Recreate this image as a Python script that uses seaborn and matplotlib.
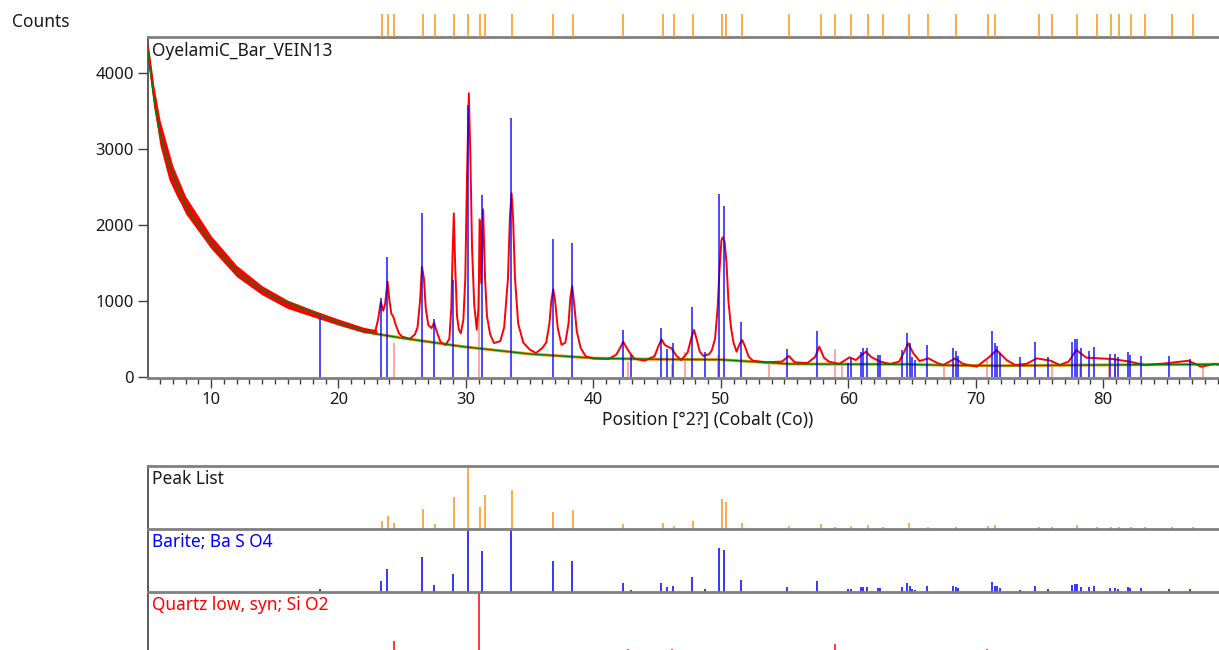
import numpy as np
import pandas as pd
import matplotlib
matplotlib.use('Agg')
import matplotlib.pyplot as plt
import seaborn as sns
from matplotlib.ticker import MultipleLocator

obs_pos = [5.05, 5.3, 5.6, 6.1, 6.8, 7.5, 8.3, 9.0, 10.0, 11.0, 12.25, 13.5, 14.9, 16.2, 17.5,
           18.8, 20.1, 21.4, 22.5, 22.9, 23.1, 23.32, 23.5, 23.65, 23.85, 24.0, 24.15, 24.3,
           24.5, 24.75, 25.0, 25.6, 26.0, 26.2, 26.4, 26.55, 26.7, 26.85, 27.05, 27.3, 27.5,
           27.7, 28.0, 28.4, 28.7, 28.85, 28.95, 29.05, 29.15, 29.3, 29.45, 29.6, 29.8, 29.95,
           30.08, 30.23, 30.35, 30.48, 30.65, 30.85, 30.98, 31.1, 31.2, 31.35, 31.5, 31.65,
           31.9, 32.2, 32.7, 33.0, 33.3, 33.45, 33.58, 33.7, 33.85, 34.1, 34.5, 35.0, 35.5,
           36.0, 36.3, 36.55, 36.7, 36.85, 37.0, 37.2, 37.5, 37.8, 38.05, 38.2, 38.34, 38.5,
           38.7, 39.0, 39.4, 40.0, 41.2, 41.8, 42.1, 42.34, 42.55, 42.8, 43.2, 44.0, 44.8,
           45.1, 45.35, 45.6, 45.9, 46.14, 46.5, 46.9, 47.4, 47.7, 47.9, 48.1, 48.35, 48.65,
           49.1, 49.3, 49.55, 49.75, 49.9, 50.05, 50.15, 50.3, 50.45, 50.6, 50.8, 51.0, 51.24,
           51.5, 51.68, 51.9, 52.2, 52.54, 53.5, 54.8, 55.35, 55.8, 56.8, 57.4, 57.73, 58.1,
           58.5, 59.3, 60.1, 60.6, 61.0, 61.4, 61.8, 62.5, 63.3, 64.0, 64.4, 64.7, 65.1, 65.6,
           66.3, 67.0, 67.46, 68.4, 69.0, 70.08, 71.1, 71.65, 72.43, 73.1, 74.0, 74.8, 75.9,
           76.6, 77.3, 77.9, 78.7, 79.76, 80.8, 82.1, 83.3, 84.9, 86.7, 87.7, 88.75, 89.1]
obs_cnt = [4300, 4000, 3600, 3050, 2600, 2350, 2160, 1970, 1770, 1560, 1350, 1200, 1060, 960, 880,
           790, 710, 640, 590, 610, 750, 990, 870, 950, 1253, 1000, 830, 792,
           680, 570, 528, 500, 560, 650, 1000, 1451, 1300, 900, 680, 642, 712,
           600, 460, 418, 500, 900, 1600, 2155, 1500, 800, 620, 572, 750, 1300,
           2600, 3739, 2900, 1700, 950, 620, 900, 2067, 1235, 2208, 1300, 800,
           560, 444, 470, 650, 1300, 2100, 2420, 2100, 1300, 700, 450, 360, 312,
           380, 450, 700, 1000, 1153, 1000, 650, 420, 450, 700, 1050, 1197, 950,
           600, 380, 270, 240, 235, 290, 380, 462, 400, 330, 240, 211, 270,
           400, 493, 420, 390, 375, 280, 220, 320, 520, 616, 500, 330, 273,
           300, 350, 500, 900, 1400, 1800, 1839, 1780, 1500, 1000, 650, 450, 330,
           440, 484, 400, 260, 211, 190, 200, 273, 190, 180, 260, 396, 250,
           198, 170, 256, 220, 280, 330, 260, 200, 168, 200, 330, 440, 312, 207,
           242, 180, 154, 242, 170, 132, 264, 352, 220, 154, 170, 242, 211,
           154, 200, 352, 251, 242, 233, 198, 154, 176, 211, 132, 168, 160]

# spread of the noisy low-angle part of the scan
band_pos = [5.05, 5.5, 6.0, 7.0, 8.0, 10.0, 12.0, 14.0, 16.0, 18.0, 20.0, 22.0, 23.0]
band_lo = [4150, 3550, 3080, 2500, 2150, 1690, 1320, 1080, 900, 790, 680, 580, 560]
band_hi = [4420, 3850, 3380, 2780, 2380, 1860, 1470, 1200, 1010, 880, 760, 650, 620]

# background (green line)
bg_pos = [5.05, 5.19, 5.5, 5.97, 6.7, 7.54, 8.33, 10.0, 12.25, 14.87, 17.5, 20.1, 22.7, 25.0,
          29.8, 35.0, 40.25, 45.0, 50.0, 55.4, 60.0, 64.6, 68.0, 71.9, 76.0, 80.0, 84.0, 89.1]
bg_cnt = [4300, 4090, 3700, 3213, 2800, 2420, 2156, 1760, 1342, 1055, 880, 704, 572, 510,
          396, 300, 243, 230, 225, 168, 165, 164, 150, 145, 150, 155, 160, 164]

# Barite; Ba S O4 reference sticks
barite_pos = [18.53, 23.32, 23.84, 26.58, 27.49, 29.0, 30.16, 31.28, 33.52, 36.83,
              38.34, 42.29, 42.92, 45.3, 45.75, 46.22, 47.74, 48.75, 49.9, 50.27,
              51.55, 55.2, 57.57, 60.0, 60.2, 61.0, 61.2, 61.45, 62.3, 62.52,
              64.19, 64.61, 64.85, 65.03, 65.23, 66.19, 68.2, 68.44, 68.65, 71.29,
              71.5, 71.71, 71.92, 73.47, 74.65, 75.66, 77.59, 77.79, 77.98, 78.25,
              78.91, 79.32, 80.57, 80.92, 81.21, 81.92, 82.14, 83.0, 85.21, 86.81]
barite_cnt = [780, 1034, 1583, 2164, 757, 1276, 3585, 2397, 3417, 1817,
              1768, 616, 286, 638, 361, 449, 924, 322, 2406, 2252,
              726, 361, 603, 185, 251, 322, 383, 383, 286, 286,
              352, 581, 440, 264, 220, 418, 374, 339, 273, 603,
              440, 409, 308, 264, 462, 255, 453, 493, 493, 374,
              339, 396, 295, 299, 255, 322, 286, 273, 273, 238]
barite_rel = [4, 17, 36, 56, 11, 28, 100, 65, 99, 49,
              49, 14, 3, 15, 8, 9, 24, 5, 70, 66,
              19, 8, 17, 5, 4, 8, 8, 8, 6, 6,
              8, 15, 10, 4, 3, 10, 9, 8, 6, 16,
              10, 10, 7, 3, 10, 4, 11, 12, 12, 8,
              8, 9, 6, 6, 4, 8, 6, 6, 5, 4]

# Quartz low, syn; Si O2 reference sticks
quartz_pos = [24.34, 31.05, 42.73, 46.14, 47.18, 49.75, 53.78, 58.96, 59.53, 67.5,
              70.9, 75.97, 78.2, 80.5, 80.9, 87.87]
quartz_cnt = [440, 2100, 198, 170, 330, 286, 198, 361, 154, 145,
              220, 211, 176, 220, 220, 145]
quartz_rel = [21, 100, 8, 8, 4, 4, 3, 16, 3, 3, 8, 3, 3, 6, 3, 3]

# Peak list
peak_pos = [23.42, 23.9, 24.34, 26.64, 27.58, 29.07, 30.2, 31.09, 31.46, 33.58,
            36.82, 38.42, 42.34, 45.43, 46.32, 47.81, 50.06, 50.42, 51.63, 55.35,
            57.86, 58.96, 60.21, 61.52, 62.75, 64.76, 66.28, 68.43, 70.94, 71.52,
            74.95, 75.97, 77.98, 79.5, 80.62, 81.27, 82.19, 83.29, 85.38, 87.08]
peak_rel = [13, 20, 9, 31, 7, 51, 100, 34, 54, 62,
            26, 30, 8, 9, 4, 12, 48, 43, 9, 4,
            8, 3, 4, 6, 3, 9, 3, 3, 4, 6,
            3, 2, 6, 3, 3, 3, 3, 2, 3, 2]

W, H = 1219, 650
XMIN, XMAX = 5.05, 89.1
BLUE = '#0000ff'
RED = '#ff0000'
ORANGE = '#f7941d'
GREEN = '#008000'
SPINE = '#808080'
FS = 12.5

sns.set_style('white')
plt.rcParams['font.family'] = ['Noto Sans', 'DejaVu Sans']

obs = pd.DataFrame({'pos': obs_pos, 'cnt': obs_cnt})
bg = pd.DataFrame({'pos': bg_pos, 'cnt': bg_cnt})

fig = plt.figure(figsize=(W / 100, H / 100), dpi=100)


def box(l, t, b):
    # axes from pixel edges (left, top, bottom), running to the right edge
    return [l / W, 1 - b / H, 1 - l / W, (b - t) / H]


ax = fig.add_axes(box(148, 36.7, 377.7))
ax_top = fig.add_axes(box(148, 14, 36.7), sharex=ax)
ax_pk = fig.add_axes(box(148, 466, 528.7))
ax_ba = fig.add_axes(box(148, 528.7, 592))
ax_qz = fig.add_axes(box(148, 592, 654))

# main scan
ax.vlines(quartz_pos, 0, quartz_cnt, color=RED, alpha=0.45, lw=1.1, zorder=1)
sns.lineplot(data=bg[bg['pos'] > 22], x='pos', y='cnt', ax=ax, color=ORANGE, lw=2.2,
             estimator=None, sort=False, zorder=2)
ax.fill_between(band_pos, band_lo, band_hi, color=RED, lw=0, zorder=3)
sns.lineplot(data=obs, x='pos', y='cnt', ax=ax, color=RED, lw=1.4,
             estimator=None, sort=False, zorder=3)
sns.lineplot(data=bg, x='pos', y='cnt', ax=ax, color=GREEN, lw=1.0,
             estimator=None, sort=False, zorder=4)
ax.vlines(barite_pos, 0, barite_cnt, color=BLUE, alpha=0.9, lw=1.1, zorder=5)

ax.set_xlim(XMIN, XMAX)
ax.set_ylim(-13, 4485)
ax.set_yticks([0, 1000, 2000, 3000, 4000])
ax.xaxis.set_major_locator(MultipleLocator(10))
ax.xaxis.set_minor_locator(MultipleLocator(1))
ax.tick_params(axis='both', which='major', direction='out', length=7, width=1,
               color='#404040', labelsize=12, pad=3, labelcolor='#1a1a1a')
ax.tick_params(axis='x', which='minor', direction='out', length=4, width=1, color='#404040')
ax.tick_params(axis='x', which='both', bottom=True)
ax.tick_params(axis='y', left=True)
ax.set_xlabel('')
ax.set_ylabel('')
ax.spines['right'].set_visible(False)
ax.spines['left'].set_color('#404040')
ax.spines['left'].set_linewidth(1.2)
for s in ('top', 'bottom'):
    ax.spines[s].set_color(SPINE)
    ax.spines[s].set_linewidth(2)
ax.text(0.004, 0.985, 'OyelamiC_Bar_VEIN13', transform=ax.transAxes, ha='left', va='top',
        fontsize=FS, color='#1a1a1a')

# peak markers above the scan
ax_top.vlines(peak_pos, 0, 1, color=ORANGE, lw=1.1)
ax_top.set_ylim(0, 1)
ax_top.axis('off')

# reference panels
panels = [(ax_pk, peak_pos, peak_rel, ORANGE, 'Peak List', '#1a1a1a'),
          (ax_ba, barite_pos, barite_rel, BLUE, 'Barite; Ba S O4', BLUE),
          (ax_qz, quartz_pos, quartz_rel, RED, 'Quartz low, syn; Si O2', RED)]
for pax, pos, rel, col, name, tcol in panels:
    pax.vlines(pos, 0, rel, color=col, lw=1.1)
    pax.set_xlim(XMIN, XMAX)
    pax.set_ylim(0, 100)
    pax.set_xticks([])
    pax.set_yticks([])
    pax.spines['right'].set_visible(False)
    pax.spines['bottom'].set_visible(False)
    pax.spines['left'].set_color('#404040')
    pax.spines['left'].set_linewidth(1.2)
    pax.spines['top'].set_color(SPINE)
    pax.spines['top'].set_linewidth(2)
    pax.text(0.004, 0.93, name, transform=pax.transAxes, ha='left', va='top',
             fontsize=FS, color=tcol)

fig.text(12 / W, 1 - 22 / H, 'Counts', ha='left', va='center', fontsize=FS, color='#1a1a1a')
fig.text(708 / W, 1 - 420 / H, 'Position [°2?] (Cobalt (Co))', ha='center', va='center',
         fontsize=FS, color='#1a1a1a')

fig.savefig('out.png', dpi=100)
